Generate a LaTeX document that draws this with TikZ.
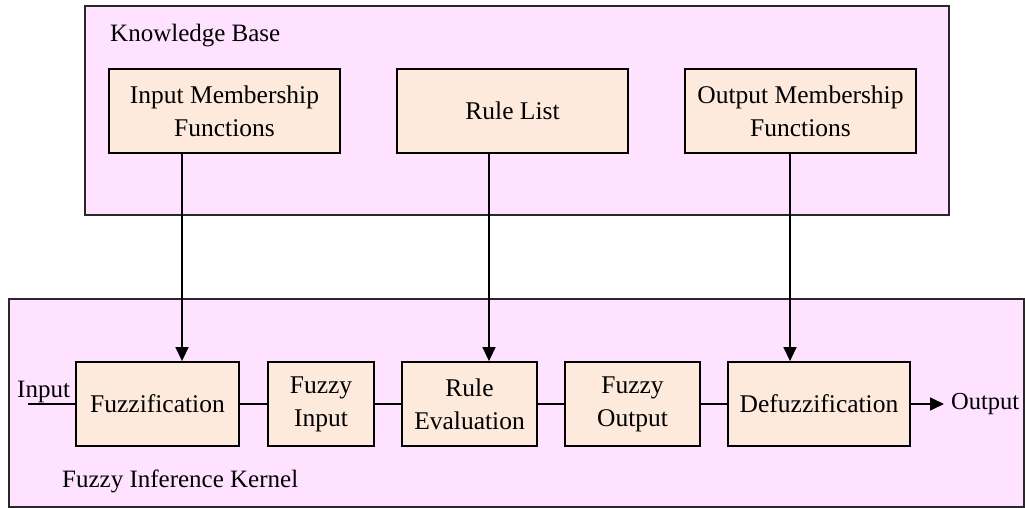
\documentclass[tikz,border=0pt]{standalone}
\usepackage{fontspec}
\setmainfont{Liberation Serif}
\usetikzlibrary{arrows.meta}
\definecolor{pinkbg}{RGB}{255,226,255}
\definecolor{peach}{RGB}{253,234,220}
\definecolor{frame}{RGB}{40,40,40}
\tikzset{
  group/.style={draw=frame, fill=pinkbg, line width=1.5pt},
  blk/.style={draw=black, fill=peach, line width=1.8pt, rectangle, inner sep=0pt, align=center,
              font=\fontsize{25.5}{33}\selectfont},
  lbl/.style={inner sep=0pt, font=\fontsize{25}{33}\selectfont},
  conn/.style={line width=1.5pt, draw=black},
  arr/.style={conn, -{Triangle[length=14pt,width=13pt]}},
}
\begin{document}
\begin{tikzpicture}[x=1pt,y=-1pt]
\useasboundingbox (0,0) rectangle (1025,508);
% group frames
\draw[group] (85,6) rectangle (949,215);
\draw[group] (9,299) rectangle (1024,507);
\node[lbl, anchor=base west] (kb) at (110,42) {Knowledge Base};
\node[lbl, anchor=base west] (fik) at (62,487) {Fuzzy Inference Kernel};
% knowledge base boxes
\node[blk, minimum width=231pt, minimum height=84pt] (imf) at (224.5,111) {Input Membership\\Functions};
\node[blk, minimum width=231pt, minimum height=84pt] (rl) at (512.5,111) {Rule List};
\node[blk, minimum width=231pt, minimum height=84pt] (omf) at (800.5,111) {Output Membership\\Functions};
% kernel boxes
\node[blk, minimum width=163pt, minimum height=84pt] (fz) at (157.5,404) {Fuzzification};
\node[blk, minimum width=106pt, minimum height=84pt] (fi) at (321,404) {Fuzzy\\Input};
\node[blk, minimum width=135pt, minimum height=84pt] (re) at (469.5,404) {Rule\\Evaluation};
\node[blk, minimum width=135pt, minimum height=84pt] (fo) at (632.5,404) {Fuzzy\\Output};
\node[blk, minimum width=182pt, minimum height=84pt] (dz) at (819,404) {Defuzzification};
% input / output
\node[lbl, anchor=base west] (in) at (17,397) {Input};
\coordinate (inl) at (28,404);
\node[lbl, anchor=west, font=\fontsize{24.5}{30}\selectfont] (out) at (951,404) {Output};
% vertical connector positions
\coordinate (c1) at (182,0);
\coordinate (c2) at (489,0);
\coordinate (c3) at (790,0);
\draw[arr] (imf.south -| c1) -- (fz.north -| c1);
\draw[arr] (rl.south -| c2) -- (re.north -| c2);
\draw[arr] (omf.south -| c3) -- (dz.north -| c3);
% horizontal chain
\draw[conn] (inl) -- (fz.west);
\draw[conn] (fz.east) -- (fi.west);
\draw[conn] (fi.east) -- (re.west);
\draw[conn] (re.east) -- (fo.west);
\draw[conn] (fo.east) -- (dz.west);
\draw[arr] (dz.east) -- ([xshift=-7pt]out.west);
\end{tikzpicture}
\end{document}
